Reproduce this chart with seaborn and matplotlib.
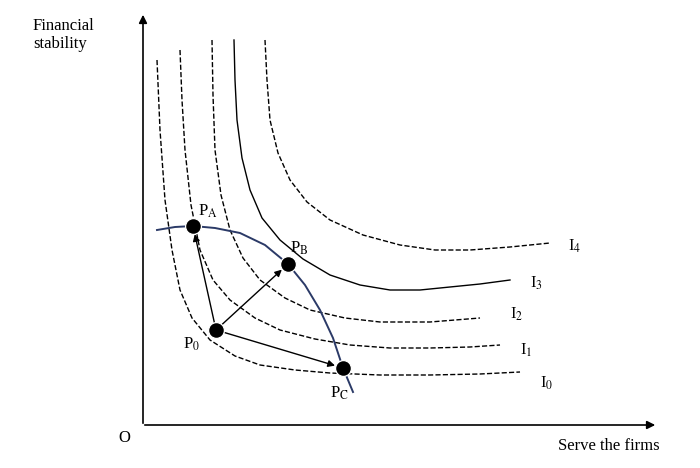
import matplotlib
matplotlib.use("Agg")
import matplotlib.pyplot as plt
import seaborn as sns

plt.rcParams["font.family"] = "Liberation Serif"
plt.rcParams["mathtext.fontset"] = "stix"

I0_x = [157, 160, 165, 172, 180, 192, 210, 235, 260, 295, 330, 380, 430, 480, 520]
I0_y = [60, 130, 200, 250, 290, 318, 340, 356, 365, 370, 373, 375, 375, 374, 372]
I1_x = [180, 182, 185, 191, 200, 213, 230, 255, 280, 315, 350, 390, 430, 470, 500]
I1_y = [50, 100, 150, 205, 250, 280, 300, 318, 330, 339, 345, 348, 348, 347, 345]
I2_x = [212, 213, 215, 221, 230, 243, 260, 285, 310, 345, 380, 430, 480]
I2_y = [40, 95, 150, 195, 230, 258, 280, 298, 310, 318, 322, 322, 318]
I3_x = [234, 235, 237, 242, 250, 262, 280, 303, 330, 360, 390, 420, 450, 480, 510]
I3_y = [40, 80, 120, 158, 190, 218, 240, 259, 275, 285, 290, 290, 287, 284, 280]
I4_x = [265, 267, 270, 278, 290, 307, 330, 363, 400, 435, 470, 510, 550]
I4_y = [40, 80, 120, 153, 180, 202, 220, 235, 245, 250, 250, 247, 243]
F_x = [157, 175, 193, 215, 240, 265, 288, 305, 320, 333, 343, 353]
F_y = [230, 227, 226, 228, 233, 245, 264, 285, 310, 338, 368, 392]
pt_names = ["P0", "PA", "PB", "PC"]
pt_x = [216, 193, 288, 343]
pt_y = [330, 226, 264, 368]

fig = plt.figure(figsize=(7, 4.68), dpi=100)
ax = fig.add_axes([0, 0, 1, 1])
ax.set_xlim(0, 700)
ax.set_ylim(468, 0)
ax.axis("off")

for xs, ys, ls in [(I0_x, I0_y, "--"), (I1_x, I1_y, "--"), (I2_x, I2_y, "--"),
                   (I3_x, I3_y, "-"), (I4_x, I4_y, "--")]:
    sns.lineplot(x=xs, y=ys, sort=False, ax=ax, color="black", lw=1.0,
                 linestyle=ls, estimator=None)
sns.lineplot(x=F_x, y=F_y, sort=False, ax=ax, color="#2b3a67", lw=1.4, estimator=None)

ax.annotate("", xy=(143, 12), xytext=(143, 426),
            arrowprops=dict(arrowstyle="-|>", color="black", lw=1.2, mutation_scale=12))
ax.annotate("", xy=(658, 425), xytext=(142, 425),
            arrowprops=dict(arrowstyle="-|>", color="black", lw=1.2, mutation_scale=12))

for i in range(1, 4):
    ax.annotate("", xy=(pt_x[i], pt_y[i]), xytext=(pt_x[0], pt_y[0]),
                arrowprops=dict(arrowstyle="-|>", color="black", lw=1.0,
                                mutation_scale=10, shrinkA=5, shrinkB=6))
sns.scatterplot(x=pt_x, y=pt_y, ax=ax, color="black", s=130, zorder=5)

fs = 12
ax.text(183, 349, "P$_0$", fontsize=fs)
ax.text(198, 216, "P$_{\\rm A}$", fontsize=fs)
ax.text(290, 253, "P$_{\\rm B}$", fontsize=fs)
ax.text(330, 398, "P$_{\\rm C}$", fontsize=fs)
ax.text(568, 251, "I$_4$", fontsize=fs)
ax.text(530, 288, "I$_3$", fontsize=fs)
ax.text(510, 319, "I$_2$", fontsize=fs)
ax.text(520, 355, "I$_1$", fontsize=fs)
ax.text(540, 388, "I$_0$", fontsize=fs)
ax.text(118, 442, "O", fontsize=fs)
ax.text(33, 48, "Financial\nstability", fontsize=fs)
ax.text(558, 450, "Serve the firms", fontsize=fs)

fig.savefig("out.png", dpi=100)
